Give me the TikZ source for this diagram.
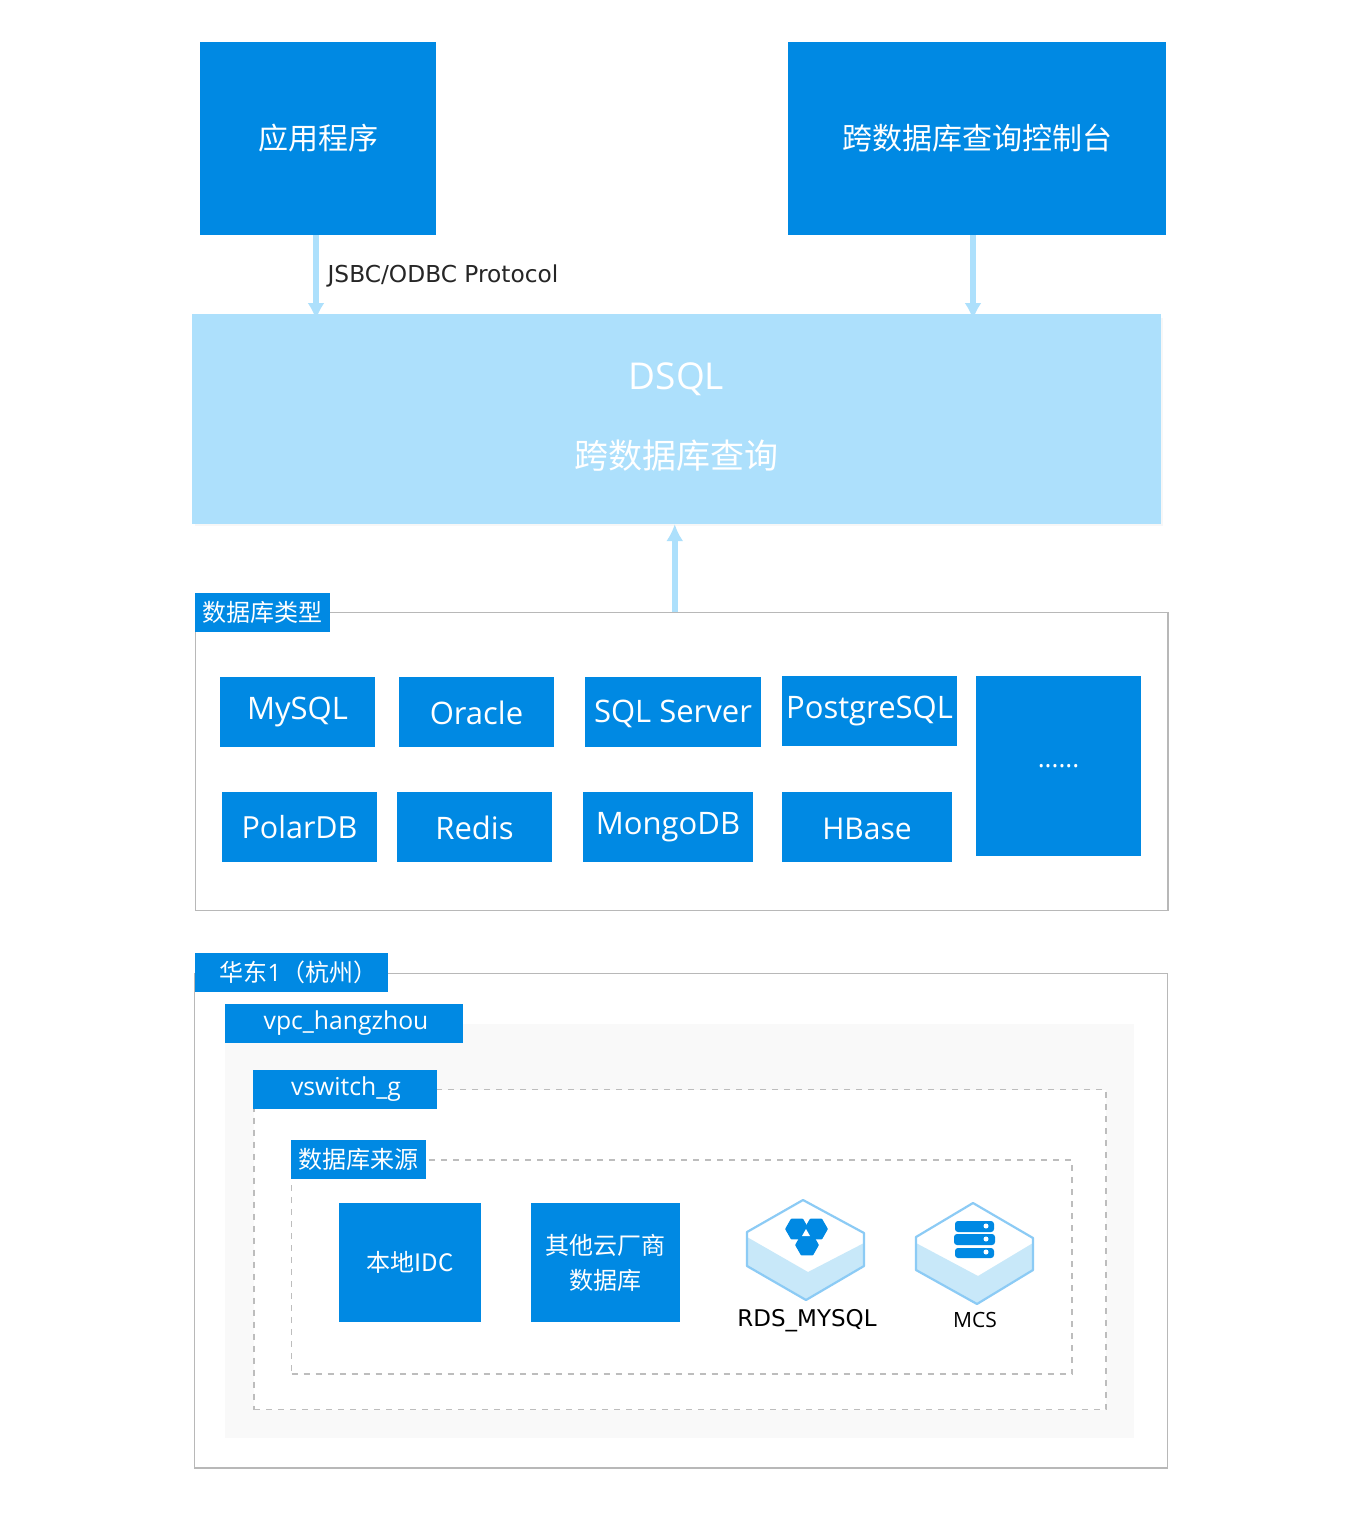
\documentclass[tikz,border=0pt]{standalone}
\usepackage{fontspec}
\setmainfont{Open Sans}
\newfontfamily\cjk{Noto Sans CJK SC}
\newfontfamily\lbl{DejaVu Sans}
\usetikzlibrary{arrows.meta,backgrounds}
\definecolor{blueA}{HTML}{0089E3}
\definecolor{skyA}{HTML}{ADE0FC}
\definecolor{iceA}{HTML}{C8E8F9}
\definecolor{edgeA}{HTML}{8CCBF5}
\definecolor{frameA}{HTML}{B8B8B8}
\definecolor{dashA}{HTML}{BDBDBD}
\definecolor{paleA}{HTML}{F9F9F9}
\tikzset{
  x=1pt,y=-1pt,
  every node/.style={inner sep=0pt,outer sep=0pt,align=center},
  blue box/.style={fill=blueA,text=white},
  sky box/.style={fill=skyA,text=white},
  frame box/.style={draw=frameA,line width=1.5pt,fill=white},
  dash box/.style={draw=dashA,line width=1.5pt,dash pattern=on 6pt off 6pt,fill=white},
  pale box/.style={fill=paleA},
  flow/.style={draw=skyA,line width=5.5pt,-{Latex[length=17pt,width=17pt]}},
  hexedge/.style={draw=edgeA,line width=2.2pt,line join=round},
}
\newcommand{\fs}[1]{\fontsize{#1}{#1}\selectfont}
% baseline placed #1 pt below the node centre
\newcommand{\bl}[2]{\smash{\raisebox{-#1pt}{#2}}}
% style, name, x0, y0, x1, y1, text
\newcommand{\bx}[7]{\node[#1,minimum width={#5-#3},minimum height={#6-#4}] (#2) at ({(#3+#5)/2},{(#4+#6)/2}) {#7};}
\newcommand{\hexblob}[3]{\filldraw[blueA,line width=2.5pt,line join=round] (#1+#3,#2) -- (#1+#3/2,#2+#3*0.87) -- (#1-#3/2,#2+#3*0.87) -- (#1-#3,#2) -- (#1-#3/2,#2-#3*0.87) -- (#1+#3/2,#2-#3*0.87) -- cycle;}
\begin{document}
\begin{tikzpicture}
\useasboundingbox (0,0) rectangle (1360,1520);
% top row
\bx{blue box}{app}{200}{42}{436}{235}{\cjk\fs{30}应用程序}
\bx{blue box}{console}{788}{42}{1166}{235}{\cjk\fs{30}跨数据库查询控制台}
\bx{sky box}{dsql}{192}{314}{1161}{524}{\fs{37}DSQL\\[43pt]\cjk\fs{34}跨数据库查询\rule[-6pt]{0pt}{6pt}}
% database types
\bx{frame box}{types}{195.5}{612.5}{1168}{910.5}{}
\bx{blue box}{typestag}{195}{593}{330}{632}{\cjk\fs{24}数据库类型}
\bx{blue box}{mysql}{220}{677}{375}{747}{\fs{31}MySQL}
\bx{blue box}{oracle}{399}{677}{554}{747}{\fs{31}\bl{12}{Oracle}}
\bx{blue box}{sqlserver}{585}{677}{761}{747}{\fs{31}\bl{10}{SQL Server}}
\bx{blue box}{postgres}{782}{676}{957}{746}{\fs{31}PostgreSQL}
\bx{blue box}{more}{976}{676}{1141}{856}{\fs{26}......}
\bx{blue box}{polardb}{222}{792}{377}{862}{\fs{30.5}PolarDB}
\bx{blue box}{redis}{397}{792}{552}{862}{\fs{31}\bl{12}{Redis}}
\bx{blue box}{mongodb}{583}{792}{753}{862}{\fs{31}MongoDB}
\bx{blue box}{hbase}{782}{792}{952}{862}{\fs{30}\bl{12}{HBase}}
% region
\bx{frame box}{region}{194.5}{973.5}{1167.5}{1468}{}
\bx{blue box}{regiontag}{195}{953}{388}{992}{\fs{24}\hspace{14pt}\cjk 华东{\normalfont 1}（杭州）}
\bx{pale box}{vpc}{225}{1024}{1134}{1438}{}
\bx{blue box}{vpctag}{225}{1004}{463}{1043}{\fs{24.7}\hspace{4pt}vpc\_hangzhou}
\bx{dash box}{vswitch}{254}{1089.5}{1106}{1409.5}{}
\bx{blue box}{vswitchtag}{253}{1070}{437}{1109}{\fs{24.7}\hspace{2pt}vswitch\_g}
\bx{dash box}{source}{291.5}{1160}{1072}{1374}{}
\bx{blue box}{sourcetag}{291}{1140}{426}{1179}{\cjk\fs{24}数据库来源}
\bx{blue box}{idc}{339}{1203}{481}{1322}{\fs{24}\cjk 本地IDC}
\bx{blue box}{cloud}{531}{1203}{680}{1322}{\cjk\fs{24}其他云厂商\\[12pt]\cjk\fs{24}数据库}
% RDS icon
\fill[white] (803,1200) -- (864,1233) -- (864,1266) -- (806,1300) -- (747,1266) -- (747,1232) -- cycle;
\fill[iceA] (747,1237) -- (808,1272) -- (864,1243) -- (864,1266) -- (806,1300) -- (747,1266) -- cycle;
\draw[hexedge] (803,1200) -- (864,1233) -- (864,1266) -- (806,1300) -- (747,1266) -- (747,1232) -- cycle;
\hexblob{797}{1229}{10.5}
\hexblob{816}{1229}{10.5}
\hexblob{807}{1245}{10.5}
\fill[white] (806,1229) -- (810,1236) -- (802,1236) -- cycle;
\node[text=black,font=\lbl\fs{23}] (rdslabel) at (807,1321) {RDS\_MYSQL};
% MCS icon
\fill[white] (973,1203) -- (1033,1238) -- (1033,1270) -- (977,1304) -- (916,1270) -- (916,1237) -- cycle;
\fill[iceA] (916,1243) -- (978,1276) -- (1033,1243) -- (1033,1270) -- (977,1304) -- (916,1270) -- cycle;
\draw[hexedge] (973,1203) -- (1033,1238) -- (1033,1270) -- (977,1304) -- (916,1270) -- (916,1237) -- cycle;
\fill[blueA,rounded corners=3pt] (955,1221) rectangle (994,1232);
\fill[blueA,rounded corners=3pt] (954,1234) rectangle (995,1245);
\fill[blueA,rounded corners=3pt] (955,1248) rectangle (994,1258);
\fill[white] (986,1226) circle (2.5);
\fill[white] (986,1239) circle (2.5);
\fill[white] (986,1252) circle (2.5);
\node[text=black,font=\fs{21}] (mcslabel) at (975,1320) {MCS};
% protocol label
\node[text=black!85,font=\lbl\fs{23.3}] (protocol) at (443,276) {JSBC/ODBC Protocol};
% connectors
\begin{scope}[on background layer]
\fill[white] (0,0) rectangle (1360,1520);
\fill[black!3] (195,318) rectangle (1163,526);
\coordinate (appbase) at ([xshift=-2pt]app.south);
\coordinate (consolebase) at ([xshift=-4pt]console.south);
\coordinate (typesbase) at ([xshift=-7pt]types.north);
\draw[flow] (appbase) -- ([yshift=-6pt]appbase |- dsql.north);
\draw[flow] (consolebase) -- ([yshift=-6pt]consolebase |- dsql.north);
\draw[flow] (typesbase) -- (typesbase |- dsql.south);
\end{scope}
\end{tikzpicture}
\end{document}
